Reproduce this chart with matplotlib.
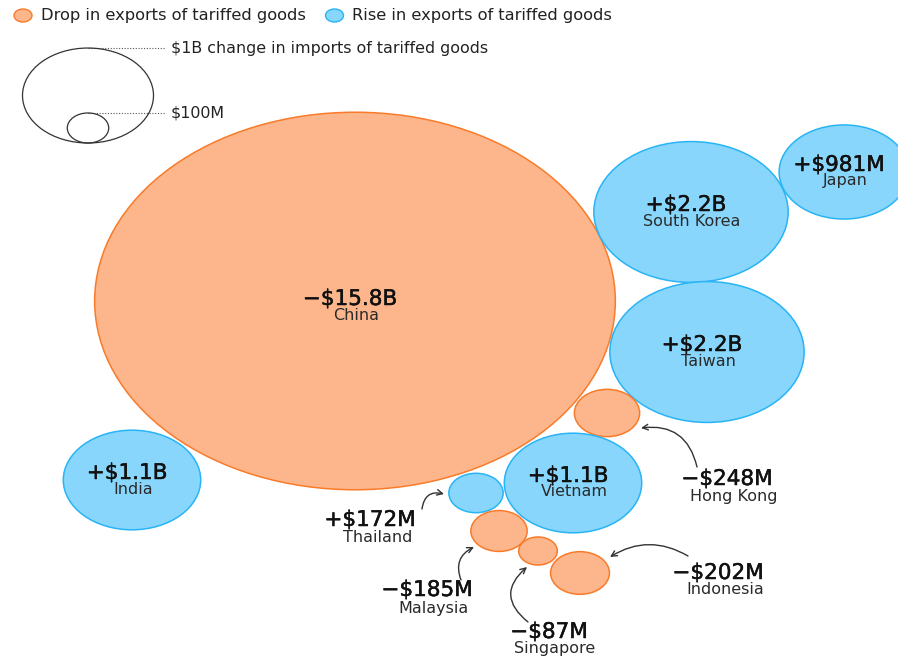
import numpy as np
import matplotlib
matplotlib.use("Agg")
import matplotlib.pyplot as plt
import matplotlib.patheffects as pe
from matplotlib.patches import Ellipse

# Change in exports of tariffed goods, $ billions
countries = ["China", "South Korea", "Japan", "Taiwan", "Hong Kong", "India",
             "Vietnam", "Thailand", "Malaysia", "Singapore", "Indonesia"]
change_bn = [-15.8, 2.2, 0.981, 2.2, -0.248, 1.1, 1.1, 0.172, -0.185, -0.087, -0.202]

# Packed layout (figure pixels, y downward)
centers = {
    "China": (355, 301), "South Korea": (691, 212), "Japan": (844, 172),
    "Taiwan": (707, 352), "Hong Kong": (607, 413), "India": (132, 480),
    "Vietnam": (573, 483), "Thailand": (476, 493), "Malaysia": (499, 531),
    "Singapore": (538, 551), "Indonesia": (580, 573),
}
# Extra vertical shift for labels drawn inside a bubble
inside_shift = {"China": 5}
# Labels placed outside small bubbles: value-text centre, name-text centre,
# arrow tail, arrow head, curvature
outside = {
    "Hong Kong": ((727, 479), (734, 497), (697, 467), (641, 428), 0.45),
    "Thailand": ((370, 520), (378, 537), (422, 509), (444, 494), -0.55),
    "Malaysia": ((427, 590), (434, 608), (461, 580), (474, 547), -0.45),
    "Singapore": ((549, 632), (555, 649), (528, 622), (527, 567), -0.6),
    "Indonesia": ((718, 573), (725, 590), (688, 556), (610, 557), 0.3),
}

SCALE = 65.5      # horizontal radius (px) of a $1B bubble
SQUASH = 0.725    # vertical/horizontal ratio of bubbles

ORANGE_FILL, ORANGE_EDGE = "#FDB68B", "#F97B2A"
BLUE_FILL, BLUE_EDGE = "#88D6FC", "#29B4F6"
W, H = 898, 660

fig = plt.figure(figsize=(W / 100, H / 100), dpi=100)
ax = fig.add_axes([0, 0, 1, 1])
ax.set_xlim(0, W)
ax.set_ylim(H, 0)
ax.axis("off")


def fmt(v):
    sign = "+" if v > 0 else "\u2212"
    a = abs(v)
    body = f"${a:.1f}B" if a >= 1 else f"${a * 1000:.0f}M"
    return sign + body


heavy = [pe.withStroke(linewidth=0.35, foreground="#111111")]
VAL_KW = dict(fontsize=15.5, color="#111111", ha="center", va="center",
              path_effects=heavy)
NAME_KW = dict(fontsize=11.5, color="#2a2a2a", ha="center", va="center")

for name, v in zip(countries, change_bn):
    cx, cy = centers[name]
    rx = SCALE * np.sqrt(abs(v))
    fill, edge = (BLUE_FILL, BLUE_EDGE) if v > 0 else (ORANGE_FILL, ORANGE_EDGE)
    ax.add_patch(Ellipse((cx, cy), 2 * rx, 2 * rx * SQUASH,
                         facecolor=fill, edgecolor=edge, lw=1.1, zorder=2))
    if name in outside:
        vpos, npos, tail, head, rad = outside[name]
        ax.text(*vpos, fmt(v), zorder=4, **VAL_KW)
        ax.text(*npos, name, zorder=4, **NAME_KW)
        ax.annotate("", xy=head, xytext=tail, zorder=4,
                    arrowprops=dict(arrowstyle="->", color="#333333", lw=1.0,
                                    shrinkA=0, shrinkB=0,
                                    connectionstyle=f"arc3,rad={rad}"))
    else:
        dy = inside_shift.get(name, 0)
        ax.text(cx - 5, cy - 7 + dy, fmt(v), zorder=4, **VAL_KW)
        ax.text(cx + 1, cy + 9 + dy, name, zorder=4, **NAME_KW)

# Colour legend
ax.add_patch(Ellipse((23, 15.5), 18, 13, facecolor=ORANGE_FILL, edgecolor=ORANGE_EDGE, lw=1))
ax.text(41, 15.5, "Drop in exports of tariffed goods", fontsize=11.7, color="#222222",
        ha="left", va="center")
ax.add_patch(Ellipse((334.5, 15.5), 18, 13, facecolor=BLUE_FILL, edgecolor=BLUE_EDGE, lw=1))
ax.text(352, 15.5, "Rise in exports of tariffed goods", fontsize=11.7, color="#222222",
        ha="left", va="center")

# Size legend
size_keys = [1.0, 0.1]
size_text = ["$1B change in imports of tariffed goods", "$100M"]
base_x, base_y = 88, 143
for val, txt in zip(size_keys, size_text):
    rx = SCALE * np.sqrt(val)
    ry = rx * SQUASH
    ax.add_patch(Ellipse((base_x, base_y - ry), 2 * rx, 2 * ry, facecolor="none",
                         edgecolor="#333333", lw=0.9, zorder=3))
    top = base_y - 2 * ry
    ax.plot([base_x, 165], [top, top], ls=(0, (1, 1.5)), color="#555555", lw=0.8)
    ax.text(171, top, txt, fontsize=11.4, color="#222222", ha="left", va="center")

fig.savefig("out.png", dpi=100, facecolor="white")
